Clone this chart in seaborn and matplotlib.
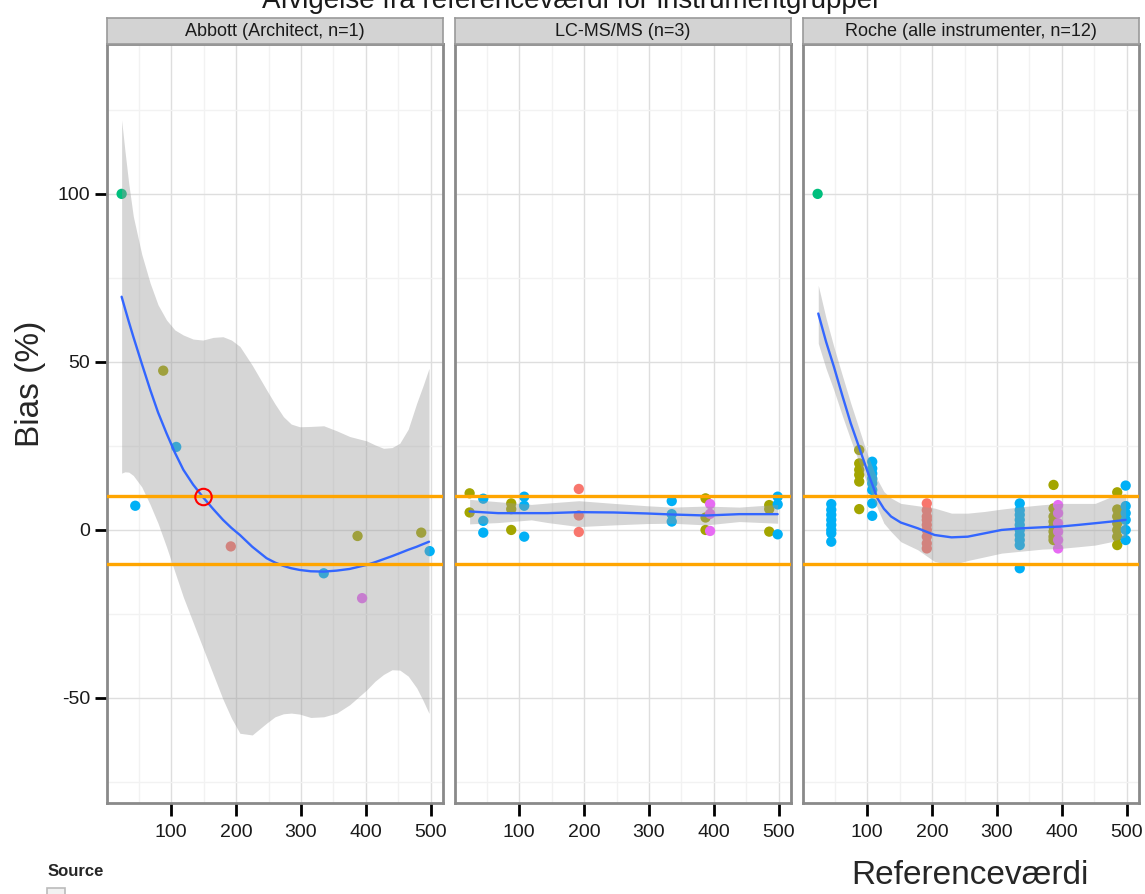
import numpy as np
import pandas as pd
import matplotlib
matplotlib.use("Agg")
import matplotlib.pyplot as plt
from matplotlib import font_manager
from matplotlib.patches import Rectangle
from matplotlib.ticker import MultipleLocator
import seaborn as sns

# ---------------- data ----------------
panel_titles = ["Abbott (Architect, n=1)", "LC-MS/MS (n=3)", "Roche (alle instrumenter, n=12)"]
source_names = ["S1", "S2", "S3", "S4", "S5"]
source_colors = ["#F8766D", "#A3A500", "#00BF7D", "#00B0F6", "#E76BF3"]

abbott_x = [24, 45, 88, 108, 192, 335, 387, 394, 485, 498]
abbott_y = [100, 7.2, 47.4, 24.7, -4.9, -12.9, -1.8, -20.3, -0.8, -6.3]
abbott_src = ["S3", "S4", "S2", "S4", "S1", "S4", "S2", "S5", "S2", "S4"]
highlight_x = [150]
highlight_y = [9.8]

lcms_x = [24, 24, 45, 45, 45, 88, 88, 88, 108, 108, 108, 192, 192, 192,
          335, 335, 335, 387, 387, 387, 394, 394, 394, 485, 485, 485, 498, 498, 498]
lcms_y = [10.9, 5.2, 9.3, 2.7, -0.8, 7.9, 6.2, 0.0, 9.9, 7.2, -2.0, 12.2, 4.3, -0.6,
          8.6, 4.7, 2.5, 9.4, 3.7, 0.0, 7.7, 4.8, -0.3, 7.4, 6.2, -0.5, 9.9, 7.6, -1.3]
lcms_src = ["S2"] * 2 + ["S4"] * 3 + ["S2"] * 3 + ["S4"] * 3 + ["S1"] * 3 + \
           ["S4"] * 3 + ["S2"] * 3 + ["S5"] * 3 + ["S2"] * 3 + ["S4"] * 3

roche_x = [24] + [45] * 8 + [88] * 6 + [108] * 8 + [192] * 9 + [335] * 10 + \
          [387] * 8 + [394] * 6 + [485] * 7 + [498] * 6
roche_y = [100,
           7.7, 6.0, 4.5, 3.0, 1.5, 0.0, -1.0, -3.5,
           23.8, 19.8, 17.9, 16.4, 14.4, 6.2,
           20.3, 18.3, 16.8, 15.3, 13.9, 11.9, 7.9, 4.2,
           7.9, 5.9, 4.0, 3.0, 1.5, 0.0, -2.0, -4.0, -5.5,
           7.9, 5.9, 4.5, 3.0, 1.5, 0.0, -1.5, -3.0, -4.5, -11.4,
           13.4, 6.4, 4.0, 2.5, 1.0, -0.5, -2.0, -3.0,
           7.4, 5.0, 2.0, -0.5, -3.0, -5.5,
           11.2, 6.1, 4.0, 2.0, 0.0, -2.0, -4.5,
           13.2, 7.1, 5.0, 3.0, 0.0, -3.0]
roche_src = ["S3"] + ["S4"] * 8 + ["S2"] * 6 + ["S4"] * 8 + ["S1"] * 9 + ["S4"] * 10 + \
            ["S2"] * 8 + ["S5"] * 6 + ["S2"] * 7 + ["S4"] * 6

# smoothed fit (loess) with confidence band
abbott_fit_x = [24, 29, 35, 42, 55, 68, 80, 93, 106, 119, 134, 149, 165, 180, 193, 206, 225, 247,
                260, 273, 285, 298, 315, 335, 355, 375, 401, 414, 427, 440, 452, 465, 478, 488, 497]
abbott_fit_y = [69.4, 66.0, 62.0, 57.5, 49.5, 41.7, 35.0, 28.8, 23.0, 17.9, 13.5, 9.8, 6.2, 3.0,
                0.6, -1.5, -5.0, -8.4, -9.7, -10.7, -11.4, -11.9, -12.3, -12.4, -12.1, -11.6,
                -10.4, -9.6, -8.7, -7.8, -6.9, -5.9, -5.0, -4.2, -3.5]
abbott_fit_hi = [122, 113, 103, 93.3, 82.0, 73.4, 67.0, 62.5, 59.5, 58.0, 56.8, 56.5, 57.3, 57.5,
                 56.5, 54.6, 49.0, 41.7, 37.5, 33.7, 31.5, 30.7, 30.8, 31.0, 29.5, 27.8, 26.5,
                 25.3, 24.3, 24.5, 25.8, 30.0, 37.7, 43.0, 48.1]
abbott_fit_lo = [16.9, 17.3, 17.2, 16.2, 12.8, 7.5, 2.0, -5.0, -12.5, -20.0, -27.5, -35.0, -43.0,
                 -50.4, -56.0, -60.5, -61.0, -57.5, -55.6, -54.7, -54.5, -54.8, -55.8, -55.6,
                 -54.5, -52.0, -47.6, -45.0, -43.0, -41.6, -41.7, -43.5, -47.0, -50.8, -54.6]

lcms_fit_x = [24, 68, 119, 144, 192, 246, 297, 335, 388, 439, 498]
lcms_fit_y = [5.5, 5.0, 5.0, 5.0, 5.3, 5.2, 4.9, 4.6, 4.3, 4.7, 4.7]
lcms_fit_hi = [9.1, 8.4, 7.6, 8.0, 8.7, 7.9, 7.2, 6.8, 7.1, 6.8, 7.6]
lcms_fit_lo = [1.8, 2.2, 3.0, 2.2, 1.0, 1.5, 1.9, 2.0, 1.5, 2.5, 2.0]

roche_fit_x = [25, 37, 49, 62, 75, 88, 100, 116, 126, 137, 152, 178, 204, 230, 255, 281, 307, 338,
               370, 397, 425, 451, 476, 498]
roche_fit_y = [64.4, 56.0, 48.6, 40.0, 31.7, 24.5, 17.8, 9.4, 6.3, 4.0, 2.2, 0.5, -1.5, -2.2, -2.0,
               -1.0, 0.0, 0.5, 0.8, 1.0, 1.5, 2.0, 2.5, 3.0]
roche_fit_hi = [72.8, 63.0, 54.5, 46.0, 37.7, 30.0, 22.8, 15.0, 11.4, 9.5, 7.9, 7.2, 6.5, 5.0, 5.0,
                5.5, 6.2, 6.9, 7.5, 7.9, 7.9, 7.9, 9.9, 10.9]
roche_fit_lo = [55.5, 48.0, 41.6, 34.0, 26.8, 20.0, 13.9, 6.5, 2.0, -0.5, -3.5, -5.9, -9.4, -10.4,
                -9.1, -8.0, -6.9, -6.3, -5.7, -5.5, -5.0, -4.5, -3.5, -2.0]

limit_levels = [10, -10]
x_ticks = [100, 200, 300, 400, 500]
y_ticks = [-50, 0, 50, 100]

# ---------------- style ----------------
sns.set_style("white")
avail = {f.name for f in font_manager.fontManager.ttflist}
narrow = "Liberation Sans Narrow" if "Liberation Sans Narrow" in avail else "Liberation Sans"
plt.rcParams["font.family"] = ["Liberation Sans", "DejaVu Sans"]
plt.rcParams["axes.unicode_minus"] = False

W, H = 1145, 894
fig = plt.figure(figsize=(W / 100, H / 100), dpi=100)

def fx(px):
    return px / W

def fy(py):
    return 1 - py / H

panels = [
    (pd.DataFrame({"x": abbott_x, "y": abbott_y, "src": abbott_src}),
     abbott_fit_x, abbott_fit_y, abbott_fit_lo, abbott_fit_hi),
    (pd.DataFrame({"x": lcms_x, "y": lcms_y, "src": lcms_src}),
     lcms_fit_x, lcms_fit_y, lcms_fit_lo, lcms_fit_hi),
    (pd.DataFrame({"x": roche_x, "y": roche_y, "src": roche_src}),
     roche_fit_x, roche_fit_y, roche_fit_lo, roche_fit_hi),
]
palette = dict(zip(source_names, source_colors))
lefts = [107, 455, 803]
pw = 336
top, bottom = 44, 803
strip_h = 26

for i, (df, fxs, fys, flo, fhi) in enumerate(panels):
    ax = fig.add_axes([fx(lefts[i]), fy(bottom), pw / W, (bottom - top) / H])
    ax.set_xlim(1.5, 518.5)
    ax.set_ylim(-81.25, 144.6)
    ax.xaxis.set_major_locator(MultipleLocator(100))
    ax.xaxis.set_minor_locator(MultipleLocator(50))
    ax.yaxis.set_major_locator(MultipleLocator(50))
    ax.yaxis.set_minor_locator(MultipleLocator(25))
    ax.grid(which="major", color="#DEDEDE", lw=1.0)
    ax.grid(which="minor", color="#F2F2F2", lw=1.0)
    ax.set_axisbelow(True)

    sns.scatterplot(data=df, x="x", y="y", hue="src", palette=palette, ax=ax,
                    s=55, linewidth=0, legend=False, zorder=2)
    if i == 0:
        sns.scatterplot(x=highlight_x, y=highlight_y, ax=ax, s=140, facecolor="none",
                        edgecolor="#FF0000", linewidth=1.5, zorder=6, legend=False)
    ax.fill_between(fxs, flo, fhi, color="#999999", alpha=0.4, lw=0, zorder=3)
    sns.lineplot(x=fxs, y=fys, ax=ax, color="#3366FF", lw=1.7, sort=False,
                 estimator=None, zorder=4)
    for lv in limit_levels:
        ax.axhline(lv, color="#FFA500", lw=2.4, zorder=5)

    ax.set_xlabel("")
    ax.set_ylabel("")
    ax.set_xticks(x_ticks)
    ax.tick_params(axis="x", which="major", bottom=True, length=9, width=2, color="black",
                   pad=6, labelsize=14, labelcolor="#1A1A1A")
    ax.tick_params(which="minor", length=0)
    for lab in ax.get_xticklabels():
        lab.set_fontfamily(narrow)
    if i == 0:
        ax.set_yticks(y_ticks)
        ax.tick_params(axis="y", which="major", left=True, length=9, width=2, color="black",
                       pad=3, labelsize=14, labelcolor="#1A1A1A")
        for lab in ax.get_yticklabels():
            lab.set_fontfamily(narrow)
    else:
        ax.tick_params(axis="y", which="major", left=False, length=0, labelleft=False)
    for s in ax.spines.values():
        s.set_color("#8A8A8A")
        s.set_linewidth(2.0)
        s.set_visible(True)

    # facet strip
    sax = fig.add_axes([fx(lefts[i]), fy(top), pw / W, strip_h / H])
    sax.set_facecolor("#D3D3D3")
    sax.set_xticks([])
    sax.set_yticks([])
    for s in sax.spines.values():
        s.set_color("#9A9A9A")
        s.set_linewidth(1.2)
    sax.text(0.5, 0.5, panel_titles[i], ha="center", va="center", fontsize=13,
             family=narrow, color="#1A1A1A", transform=sax.transAxes)

# axis titles
fig.text(fx(30), fy(384), "Bias (%)", rotation=90, ha="center", va="center", fontsize=24)
fig.text(fx(970), fy(875), "Referenceværdi", ha="center", va="center", fontsize=24)
# (cut-off) plot title, as in the reference image
fig.text(fx(572), fy(8), "Afvigelse fra referenceværdi for instrumentgrupper",
         ha="center", va="baseline", fontsize=20, color="#1A1A1A")
# legend title (legend is cut off at the bottom of the image)
fig.text(fx(48), fy(872), "Source", ha="left", va="center", fontsize=12, fontweight="bold",
         family=narrow)
fig.patches.append(Rectangle((fx(47), fy(900)), 18 / W, 12 / H, transform=fig.transFigure,
                             facecolor="#F2F2F2", edgecolor="#BBBBBB", lw=1.2))

fig.savefig("out.png", dpi=100)
